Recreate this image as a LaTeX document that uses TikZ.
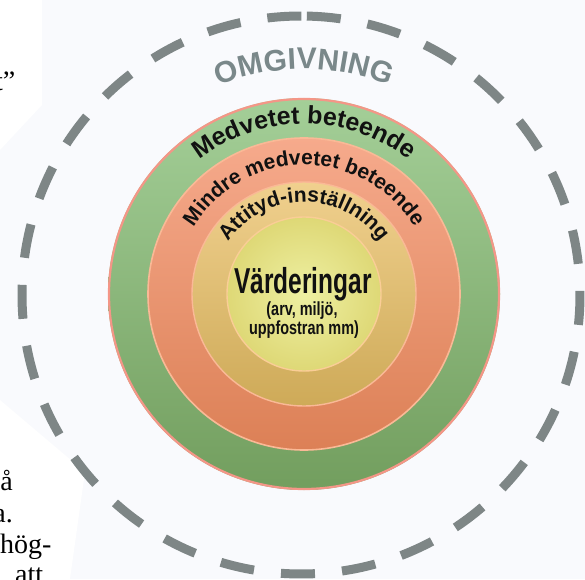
\documentclass[tikz,border=0pt]{standalone}
\usepackage{fontspec}
\usepackage{graphicx}
\setmainfont{Liberation Serif}
\newfontfamily\arial{Liberation Sans}
\usetikzlibrary{decorations.text}
\definecolor{bg}{RGB}{249,250,253}
\definecolor{dashgray}{RGB}{126,134,134}
\definecolor{omgray}{RGB}{122,136,138}
\definecolor{gtop}{RGB}{164,207,152}
\definecolor{gbot}{RGB}{114,158,94}
\definecolor{stop}{RGB}{246,170,140}
\definecolor{sbot}{RGB}{220,128,86}
\definecolor{ytop}{RGB}{240,208,142}
\definecolor{ybot}{RGB}{206,170,88}
\definecolor{iin}{RGB}{238,240,162}
\definecolor{iout}{RGB}{222,216,118}
\definecolor{rimred}{RGB}{244,150,135}
\definecolor{rimpeach}{RGB}{250,185,150}
\definecolor{rimlight}{RGB}{250,205,150}
\definecolor{txt}{RGB}{17,17,17}
\tikzset{
  dashring/.style={draw=dashgray, line width=9pt, dash pattern=on 34pt off 27.2pt},
  pagetext/.style={font=\fontsize{28}{32}\selectfont, text=black, inner sep=0pt},
  centretext/.style={text=txt, inner sep=0pt, font=\arial\bfseries},
}
\begin{document}
\begin{tikzpicture}[x=1pt,y=1pt]
\useasboundingbox (0,0) rectangle (585,579);
\clip (0,0) rectangle (585,579);
\fill[bg] (0,0) rectangle (585,579);
\fill[white] (0,579) -- (42,579) -- (42,474) -- (0,429) -- cycle;
\fill[white] (0,179) -- (85,107) -- (70,0) -- (0,0) -- cycle;

\coordinate (c) at (304,285);
\coordinate (d) at (301,284);

% outer dashed circle
\draw[dashring] (d) ++(88.8:279pt) arc[start angle=88.8, end angle=-271.2, radius=279pt];

% rings
\shade[top color=gtop, bottom color=gbot] (c) circle[radius=196pt];
\draw[rimred, line width=2.2pt] (c) circle[radius=195pt];
\shade[top color=stop, bottom color=sbot] (c) circle[radius=156pt];
\draw[rimpeach, line width=1.6pt] (c) circle[radius=156pt];
\shade[top color=ytop, bottom color=ybot] (c) circle[radius=112pt];
\draw[rimpeach, line width=1.4pt] (c) circle[radius=112pt];
\shade[inner color=iin, outer color=iout] (c) circle[radius=77pt];
\draw[rimlight, line width=1.4pt] (c) circle[radius=77pt];

% curved labels
\path[decorate, decoration={text along path, text align=center,
  text={|\arial\bfseries\fontsize{30}{36}\selectfont\color{omgray}|OMGIVNING}}]
  (c) ++(180:225pt) arc[start angle=180, end angle=0, radius=225pt];
\path[decorate, decoration={text along path, text align=center,
  text={|\arial\bfseries\fontsize{25}{30}\selectfont\color{txt}|Medvetet beteende}}]
  (c) ++(180:170pt) arc[start angle=180, end angle=0, radius=170pt];
\path[decorate, decoration={text along path, text align=center,
  text={|\arial\bfseries\fontsize{21}{25}\selectfont\color{txt}|Mindre medvetet beteende}}]
  (c) ++(180:129pt) arc[start angle=180, end angle=0, radius=129pt];
\path[decorate, decoration={text along path, text align=center,
  text={|\arial\bfseries\fontsize{21}{25}\selectfont\color{txt}|Attityd-inställning}}]
  (c) ++(180:92pt) arc[start angle=180, end angle=0, radius=92pt];

% centre text
\node[centretext, anchor=base] (vard) at (303,286)
  {\scalebox{0.68}[1]{\fontsize{36}{40}\selectfont Värderingar}};
\node[centretext, anchor=base] (arv) at (302,264)
  {\scalebox{0.76}[1]{\fontsize{19}{22}\selectfont (arv, miljö,}};
\node[centretext, anchor=base] (upp) at (304,245)
  {\scalebox{0.76}[1]{\fontsize{19}{22}\selectfont uppfostran mm)}};

% fragments of the surrounding page text
\node[pagetext, anchor=base east] (frag1) at (15.5,488) {t”};
\node[pagetext, anchor=base east] (frag2) at (13,89) {å};
\node[pagetext, anchor=base east] (frag3) at (13,57) {a.};
\node[pagetext, anchor=base west] (frag4) at (0,26) {hög-};
\node[pagetext, anchor=base west] (frag5) at (15,-4) {att};
\end{tikzpicture}
\end{document}
